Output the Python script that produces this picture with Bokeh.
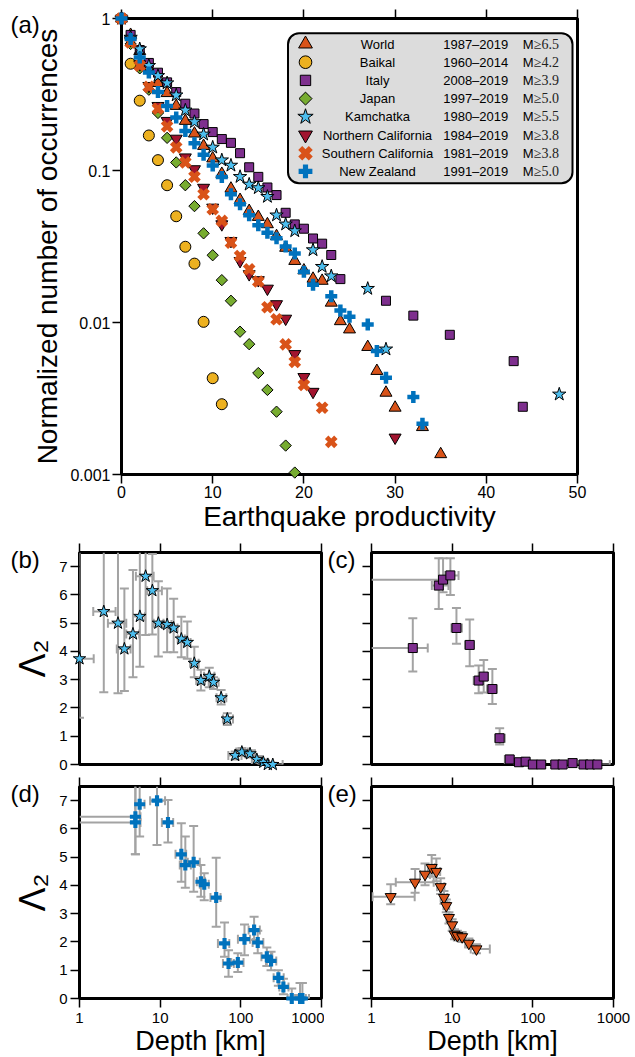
import numpy as np
from bokeh.plotting import figure
from bokeh.models import (Range1d, FixedTicker, LogAxis, LinearAxis, Label,
                          BoxAnnotation, CustomJSTickFormatter)
from bokeh.layouts import column, row
from bokeh.embed import file_html
from bokeh.resources import INLINE
from bokeh.core.properties import value

FONT = "Liberation Sans"
SERIF = "Liberation Serif"
GRAY = "#a3a3a3"

# ---------------- panel (a): normalized number of occurrences ----------------
world_x = [0, 1, 2, 3, 4, 5, 6, 7, 8, 9, 10, 11, 12, 13, 14, 15, 16, 17, 18, 19, 20, 21, 22, 23, 24, 25, 27, 28, 29, 30, 33, 35]
world_y = [1, 0.78, 0.61, 0.47, 0.376, 0.323, 0.266, 0.212, 0.175, 0.145, 0.12, 0.095, 0.076, 0.064, 0.0542, 0.0495, 0.0443,
           0.037, 0.031, 0.0254, 0.022, 0.0194, 0.0188, 0.0135, 0.0102, 0.009, 0.0069, 0.0048, 0.00345, 0.00275, 0.00205, 0.00136]

baikal_x = [0, 1, 2, 3, 4, 5, 6, 7, 8, 9, 10, 11]
baikal_y = [1, 0.504, 0.288, 0.17, 0.117, 0.080, 0.050, 0.0315, 0.0244, 0.0101, 0.0043, 0.0029]

italy_x = [0, 1, 2, 3, 4, 5, 6, 7, 8, 9, 10, 11, 12, 13, 14, 15, 16, 17, 18, 19, 20, 21, 22, 23, 24, 29, 32, 36, 43, 44]
italy_y = [1, 0.78, 0.62, 0.51, 0.44, 0.38, 0.328, 0.275, 0.237, 0.202, 0.179, 0.161, 0.152, 0.13, 0.105, 0.0908, 0.0773,
           0.0689, 0.0527, 0.0442, 0.0414, 0.0357, 0.033, 0.0278, 0.0193, 0.0139, 0.0111, 0.0083, 0.00557, 0.00279]

japan_x = [0, 1, 2, 3, 4, 5, 6, 7, 8, 9, 10, 11, 12, 13, 14, 15, 16, 17, 18, 19]
japan_y = [1, 0.68, 0.47, 0.34, 0.239, 0.164, 0.113, 0.080, 0.0583, 0.0386, 0.0277, 0.019, 0.0139, 0.0087, 0.0072,
           0.00465, 0.0036, 0.00259, 0.00155, 0.00103]

kamchatka_x = [0, 1, 2, 3, 4, 5, 6, 7, 8, 9, 10, 11, 12, 13, 14, 15, 16, 17, 18, 19, 21, 22, 23, 27, 29, 48]
kamchatka_y = [1, 0.75, 0.63, 0.489, 0.42, 0.376, 0.313, 0.249, 0.209, 0.173, 0.142, 0.117, 0.108, 0.091, 0.081, 0.0768,
               0.0673, 0.0508, 0.0443, 0.040, 0.030, 0.0233, 0.0202, 0.0167, 0.00667, 0.00337]

ncal_x = [0, 1, 2, 3, 4, 5, 6, 7, 8, 9, 10, 11, 12, 13, 14, 15, 16, 17, 18, 19, 20, 21, 30]
ncal_y = [1, 0.72, 0.5, 0.36, 0.266, 0.212, 0.162, 0.122, 0.102, 0.077, 0.057, 0.0443, 0.0344, 0.0254, 0.0208, 0.019,
          0.0167, 0.0132, 0.0106, 0.0062, 0.00438, 0.0035, 0.00175]

scal_x = [0, 1, 2, 3, 4, 5, 6, 7, 8, 9, 10, 11, 12, 13, 14, 15, 16, 17, 18, 19, 20, 22, 23]
scal_y = [1, 0.695, 0.489, 0.355, 0.255, 0.195, 0.142, 0.113, 0.091, 0.0698, 0.0556, 0.0466, 0.0335, 0.0274, 0.0224,
          0.0186, 0.0126, 0.0105, 0.00718, 0.0055, 0.00388, 0.00275, 0.00164]

nz_x = [0, 1, 2, 3, 4, 5, 6, 7, 8, 9, 10, 11, 12, 13, 14, 15, 16, 17, 18, 19, 20, 21, 23, 24, 25, 27, 28, 29, 32, 33]
nz_y = [1, 0.732, 0.554, 0.441, 0.329, 0.266, 0.223, 0.182, 0.151, 0.127, 0.108, 0.0907, 0.0698, 0.06, 0.0508, 0.0437,
        0.039, 0.0358, 0.0316, 0.0284, 0.0216, 0.0177, 0.0149, 0.012, 0.0109, 0.0097, 0.00649, 0.00433, 0.00323, 0.00216]

legend_names = ["World", "Baikal", "Italy", "Japan", "Kamchatka", "Northern California",
                "Southern California", "New Zealand"]
legend_years = ["1987\u20132019", "1960\u20132014", "2008\u20132019", "1997\u20132019", "1980\u20132019",
                "1984\u20132019", "1981\u20132019", "1991\u20132019"]
legend_mags = ["6.5", "4.2", "3.9", "5.0", "5.5", "3.8", "3.8", "5.0"]

xa_ticks = [0, 10, 20, 30, 40, 50]
ya_ticks = [0.001, 0.01, 0.1, 1]
depth_ticks = [1, 10, 100, 1000]
lam_ticks = [0, 1, 2, 3, 4, 5, 6, 7]

# ---------------- panels (b)-(e): Lambda_2 versus depth ----------------
kam_d = [1.0, 2.0, 3.0, 3.6, 4.6, 5.6, 6.6, 8.0, 9.5, 12.2, 14.7, 18.3, 21.7, 26.5, 32, 40.6, 45.9, 57, 68, 85, 103, 130, 158, 190, 216, 249]
kam_L = [3.74, 5.41, 5.0, 4.09, 4.62, 5.24, 6.66, 6.15, 5.0, 4.95, 4.83, 4.44, 4.32, 3.58, 2.97, 3.12, 2.91, 2.36, 1.61,
         0.32, 0.44, 0.38, 0.18, 0.08, 0.0, 0.0]
kam_L_lo = [1.65, 2.56, 2.52, 2.6, 3.09, 3.46, 4.58, 4.6, 3.82, 3.97, 3.97, 3.79, 3.74, 3.09, 2.62, 2.73, 2.67, 2.12, 1.40,
            0.18, 0.3, 0.25, 0.06, 0.0, 0.0, 0.0]
kam_L_hi = [9.0, 9.0, 9.0, 6.23, 6.88, 9.0, 9.0, 7.45, 6.48, 6.23, 5.86, 5.23, 5.06, 4.17, 3.35, 3.42, 3.09, 2.64, 1.81,
            0.46, 0.58, 0.5, 0.3, 0.18, 0.08, 0.06]
kam_d_lo = [0.7, 1.48, 2.25, 2.9, 3.8, 4.6, 5.0, 6.9, 8.3, 10.8, 13.0, 16.5, 19.8, 23.5, 28, 35, 40, 50, 60, 70, 88, 112,
            137, 165, 190, 215]
kam_d_hi = [1.5, 2.8, 3.8, 4.3, 5.5, 6.5, 8.3, 10.5, 11.0, 13.8, 16.4, 20.2, 23.8, 30, 36, 47, 53, 66, 80, 102, 122, 150,
            182, 215, 245, 330]

ita_d = [3.25, 6.82, 7.71, 9.5, 11.3, 16.5, 21.3, 24.6, 31.5, 38.8, 51.6, 67.3, 81.4, 100, 127, 190, 234, 311, 425, 514, 631]
ita_L = [4.12, 6.33, 6.54, 6.69, 4.83, 4.23, 2.97, 3.11, 2.67, 0.93, 0.18, 0.08, 0.1, 0.0, 0.0, 0.0, 0.0, 0.05, 0.0, 0.0, 0.0]
ita_L_lo = [3.29, 5.5, 6.09, 6.0, 4.27, 3.48, 2.52, 2.55, 2.14, 0.71, 0.08, 0.02, 0.03, 0, 0, 0, 0, 0, 0, 0, 0]
ita_L_hi = [5.17, 7.3, 7.3, 7.3, 5.54, 5.13, 3.5, 3.7, 3.38, 1.28, 0.3, 0.16, 0.17, 0.03, 0.03, 0.03, 0.03, 0.1, 0.03, 0.03, 0.03]
ita_d_lo = [0.5, 5.6, 0.5, 8.2, 9.8, 14.5, 18.5, 22, 27, 34, 45, 59, 72, 88, 112, 168, 207, 275, 375, 455, 560]
ita_d_hi = [4.98, 9.0, 9.0, 12.0, 13.2, 18.5, 24, 27.5, 35.5, 45, 58, 75, 90, 112, 140, 212, 260, 350, 480, 580, 900]

nz_d = [4.93, 4.93, 5.57, 9.14, 12.5, 18.3, 20.5, 26, 32, 35.2, 49.5, 62.8, 70.4, 91.8, 111, 146, 162, 210, 237, 292, 337, 428, 542, 580]
nz_L = [6.43, 6.23, 6.87, 7.0, 6.23, 5.1, 4.72, 4.82, 4.13, 4.04, 3.57, 1.95, 1.24, 1.27, 2.1, 2.42, 1.98, 1.48, 1.33,
        0.73, 0.41, 0.0, 0.0, 0.0]
nz_L_lo = [5.1, 5.1, 5.73, 5.43, 5.52, 4.13, 3.92, 3.78, 3.6, 3.48, 2.54, 1.48, 0.77, 0.94, 1.53, 2.07, 1.6, 1.15, 1.0,
           0.45, 0.15, 0.0, 0.0, 0.0]
nz_L_hi = [9.0, 9.0, 9.0, 9.0, 7.02, 6.2, 5.73, 6.1, 4.72, 4.43, 4.98, 2.69, 1.71, 1.6, 2.62, 2.89, 2.4, 1.8, 1.65, 1.0,
           0.7, 0.35, 0.55, 0.55]
nz_d_lo = [0.5, 0.5, 4.9, 7.5, 10.5, 15.5, 17.5, 22, 28.5, 31, 42, 52, 60, 76, 92, 125, 140, 180, 205, 255, 300, 380, 470, 500]
nz_d_hi = [5.7, 5.7, 6.4, 11.5, 14.5, 21, 24, 31, 36, 40, 56, 72, 82, 108, 130, 172, 190, 245, 275, 340, 390, 500, 640, 700]

nc_d = [1.73, 3.47, 4.61, 5.57, 6.36, 7.2, 7.91, 8.45, 9.12, 10.0, 10.7, 11.6, 13.3, 16.1, 20]
nc_L = [3.6, 4.11, 4.39, 4.63, 4.49, 3.95, 3.57, 3.28, 2.86, 2.6, 2.27, 2.22, 2.18, 1.95, 1.75]
nc_L_lo = [3.33, 3.74, 4.01, 4.31, 4.15, 3.7, 3.35, 3.05, 2.65, 2.4, 2.1, 2.05, 2.0, 1.8, 1.6]
nc_L_hi = [4.04, 4.58, 4.78, 5.08, 4.95, 4.25, 3.8, 3.5, 3.05, 2.8, 2.45, 2.4, 2.35, 2.12, 1.92]
nc_d_lo = [1.03, 2.0, 4.0, 5.0, 5.7, 6.5, 7.2, 7.8, 8.5, 9.3, 10.0, 10.8, 12.2, 14.5, 17]
nc_d_hi = [3.43, 5.9, 5.3, 6.1, 7.1, 8.0, 8.7, 9.2, 9.8, 10.8, 11.5, 12.5, 14.6, 18, 29.3]

# ---------------- styles ----------------
STY = {
    "World": dict(marker="triangle", size=12, fill_color="#D95319", line_color="black", line_width=1),
    "Baikal": dict(marker="circle", size=11, fill_color="#EDB120", line_color="black", line_width=1),
    "Italy": dict(marker="square", size=9, fill_color="#7E2F8E", line_color="black", line_width=1),
    "Japan": dict(marker="square", size=8, angle=np.pi / 4, fill_color="#77AC30", line_color="black", line_width=1),
    "Kamchatka": dict(marker="star", size=14, fill_color="#4DBEEE", line_color="black", line_width=1),
    "Northern California": dict(marker="inverted_triangle", size=12, fill_color="#A2142F", line_color="black", line_width=1),
    "Southern California": dict(marker="plus", size=13, angle=np.pi / 4, fill_color="#D95319", line_color=None),
    "New Zealand": dict(marker="plus", size=12, fill_color="#0072BD", line_color=None),
}
SERIES = [("World", world_x, world_y), ("Baikal", baikal_x, baikal_y), ("Italy", italy_x, italy_y),
          ("Japan", japan_x, japan_y), ("Kamchatka", kamchatka_x, kamchatka_y),
          ("Northern California", ncal_x, ncal_y), ("Southern California", scal_x, scal_y),
          ("New Zealand", nz_x, nz_y)]

EMPTY = "return ''"
PLAIN = "return String(tick)"


def style_axis(ax, fs, labels=True, standoff=2):
    ax.major_tick_out = 9
    ax.major_tick_in = 0
    ax.minor_tick_out = 0
    ax.minor_tick_in = 0
    ax.major_tick_line_width = 1.5
    ax.major_tick_line_color = "black"
    ax.axis_line_color = None
    ax.major_label_text_font = FONT
    ax.major_label_text_color = "black"
    ax.major_label_text_font_size = fs
    ax.major_label_standoff = standoff if labels else 0
    ax.axis_label_text_font = FONT
    ax.axis_label_text_font_style = "normal"
    ax.axis_label_text_color = "black"
    if not labels:
        ax.formatter = CustomJSTickFormatter(code=EMPTY)


def frame_style(p):
    p.outline_line_color = "black"
    p.outline_line_width = 3
    p.outline_line_alpha = 1
    p.grid.visible = False
    p.background_fill_color = "white"
    p.border_fill_color = "white"


def free_text(p, x, y, text, size, align="left", baseline="top"):
    r = p.text(x=[x], y=[y], text=[text], text_font=value(FONT), text_font_size=value(size),
               text_align=align, text_baseline=baseline, text_color="black")
    r.level = "overlay"
    return r


# ---------------- figure (a) ----------------
A_W, A_H = 635, 540
A_L, A_R, A_T, A_B = 121, 58, 18, 66
A_FW, A_FH = A_W - A_L - A_R, A_H - A_T - A_B
pa = figure(width=A_W, height=A_H, y_axis_type="log", x_range=Range1d(0, 50), y_range=Range1d(0.001, 1),
            output_backend="svg", toolbar_location=None,
            min_border_left=A_L, min_border_right=A_R, min_border_top=A_T, min_border_bottom=A_B)
frame_style(pa)
pa.xaxis.ticker = FixedTicker(ticks=xa_ticks)
pa.yaxis.ticker = FixedTicker(ticks=ya_ticks)
style_axis(pa.xaxis[0], "16px")
style_axis(pa.yaxis[0], "16px")
pa.yaxis.formatter = CustomJSTickFormatter(code=PLAIN)
pa.xaxis.axis_label = "Earthquake productivity"
pa.yaxis.axis_label = "Normalized number of occurrences"
pa.xaxis.axis_label_text_font_size = "28px"
pa.yaxis.axis_label_text_font_size = "28px"
pa.xaxis.axis_label_standoff = 0
pa.yaxis.axis_label_standoff = 4
top_a = LinearAxis(ticker=FixedTicker(ticks=xa_ticks))
style_axis(top_a, "16px", labels=False)
pa.add_layout(top_a, "above")

for name, xs, ys in SERIES:
    r = pa.scatter(xs, ys, **STY[name])
    r.level = "overlay"


# frame pixels (from the frame's top-left corner) -> data units of panel (a)
def lx(px):
    return px / A_FW * 50.0


def ly(py):
    return 10 ** (-(py / A_FH) * 3.0)


LEG_LEFT, LEG_RIGHT, LEG_TOP, LEG_BOT = 166.5, 451, 14.7, 164.7
pa.add_layout(BoxAnnotation(left=lx(LEG_LEFT), right=lx(LEG_RIGHT), top=ly(LEG_TOP), bottom=ly(LEG_BOT),
                            fill_color="#dcdcdc", fill_alpha=1.0, line_color="black", line_width=2,
                            line_alpha=1.0, border_radius=11, level="underlay"))
for i, name in enumerate(legend_names):
    rowy = 25.5 + 18.2 * i
    st = dict(STY[name])
    st["size"] = st["size"] * 1.15
    r = pa.scatter([lx(184)], [ly(rowy)], **st)
    r.level = "overlay"
    pa.add_layout(Label(x=lx(256), y=ly(rowy), text=name, text_font=FONT, text_font_size="13px",
                        text_align="center", text_baseline="middle", text_color="black"))
    pa.add_layout(Label(x=lx(321.7), y=ly(rowy), text=legend_years[i], text_font=FONT, text_font_size="13px",
                        text_align="left", text_baseline="middle", text_color="black"))
    pa.add_layout(Label(x=lx(401.3), y=ly(rowy), text="M", text_font=FONT, text_font_size="13px",
                        text_align="left", text_baseline="middle", text_color="black"))
    pa.add_layout(Label(x=lx(412.3), y=ly(rowy), text="\u2265" + legend_mags[i], text_font=SERIF,
                        text_font_size="14px", text_align="left", text_baseline="middle", text_color="#222222"))

free_text(pa, lx(-111), ly(-8), "(a)", "24px")

# ---------------- figures (b)-(e) ----------------
FRAME_W, FRAME_H = 242, 212


def dx(px):
    return 10 ** (px / FRAME_W * 3.0)


def dy(py):
    return 7.5 - py / FRAME_H * 7.5


def depth_panel(w, h, ml, mr, mt, mb, ylabels, xlabels, letter, letter_dx):
    p = figure(width=w, height=h, x_axis_type="log", x_range=Range1d(1, 1000), y_range=Range1d(0, 7.5),
               output_backend="svg", toolbar_location=None,
               x_axis_location="below" if xlabels else "above",
               min_border_left=ml, min_border_right=mr, min_border_top=mt, min_border_bottom=mb)
    frame_style(p)
    p.xaxis.ticker = FixedTicker(ticks=depth_ticks)
    p.yaxis.ticker = FixedTicker(ticks=lam_ticks)
    style_axis(p.xaxis[0], "15px", labels=xlabels, standoff=5)
    style_axis(p.yaxis[0], "15px", labels=ylabels, standoff=3)
    if xlabels:
        p.xaxis.formatter = CustomJSTickFormatter(code=PLAIN)
        top = LogAxis(ticker=FixedTicker(ticks=depth_ticks))
        style_axis(top, "15px", labels=False)
        p.add_layout(top, "above")
        free_text(p, dx(FRAME_W / 2), dy(FRAME_H + 27), "Depth [km]", "27px", align="center", baseline="top")
    if ylabels:
        p.yaxis.axis_label = "\u039b\u2082"
        p.yaxis.axis_label_text_font_size = "36px"
        p.yaxis.axis_label_standoff = 3
    free_text(p, dx(letter_dx), dy(-6.5), letter, "24px")
    return p


def errorbars(p, d, L, Llo, Lhi, dlo, dhi):
    ytop, xmin = 7.5, 1.0
    p.segment(x0=d, y0=Llo, x1=d, y1=[min(v, ytop) for v in Lhi], line_color=GRAY, line_width=2)
    cx = list(d) + [a for a, v in zip(d, Lhi) if v <= ytop]
    cy = list(Llo) + [v for v in Lhi if v <= ytop]
    p.scatter(cx, cy, marker="dash", size=9, line_color=GRAY, line_width=2)
    p.segment(x0=[max(v, xmin) for v in dlo], y0=L, x1=dhi, y1=L, line_color=GRAY, line_width=2)
    hx = [v for v in dlo if v >= xmin] + list(dhi)
    hy = [l for v, l in zip(dlo, L) if v >= xmin] + list(L)
    p.scatter(hx, hy, marker="dash", size=9, angle=np.pi / 2, line_color=GRAY, line_width=2)


pb = depth_panel(324, 235, 79, 3, 12, 11, True, False, "(b)", -69)
errorbars(pb, kam_d, kam_L, kam_L_lo, kam_L_hi, kam_d_lo, kam_d_hi)
rb = pb.scatter(kam_d, kam_L, marker="star", size=13, fill_color="#4DBEEE", line_color="black", line_width=1)
rb.level = "overlay"

pc = depth_panel(311, 235, 47, 22, 12, 11, False, False, "(c)", -44)
errorbars(pc, ita_d, ita_L, ita_L_lo, ita_L_hi, ita_d_lo, ita_d_hi)
rc = pc.scatter(ita_d, ita_L, marker="square", size=9, fill_color="#7E2F8E", line_color="black", line_width=1)
rc.level = "overlay"

pd_ = depth_panel(324, 282, 79, 3, 11, 59, True, True, "(d)", -69)
errorbars(pd_, nz_d, nz_L, nz_L_lo, nz_L_hi, nz_d_lo, nz_d_hi)
rd = pd_.scatter(nz_d, nz_L, marker="plus", size=11, fill_color="#0072BD", line_color=None)
rd.level = "overlay"

pe = depth_panel(311, 282, 47, 22, 11, 59, False, True, "(e)", -44)
errorbars(pe, nc_d, nc_L, nc_L_lo, nc_L_hi, nc_d_lo, nc_d_hi)
re_ = pe.scatter(nc_d, nc_L, marker="inverted_triangle", size=11, fill_color="#D95319", line_color="black", line_width=1)
re_.level = "overlay"

layout = column(pa, row(pb, pc, spacing=0), row(pd_, pe, spacing=0), spacing=0)

open("out.html", "w").write(file_html(layout, INLINE))
